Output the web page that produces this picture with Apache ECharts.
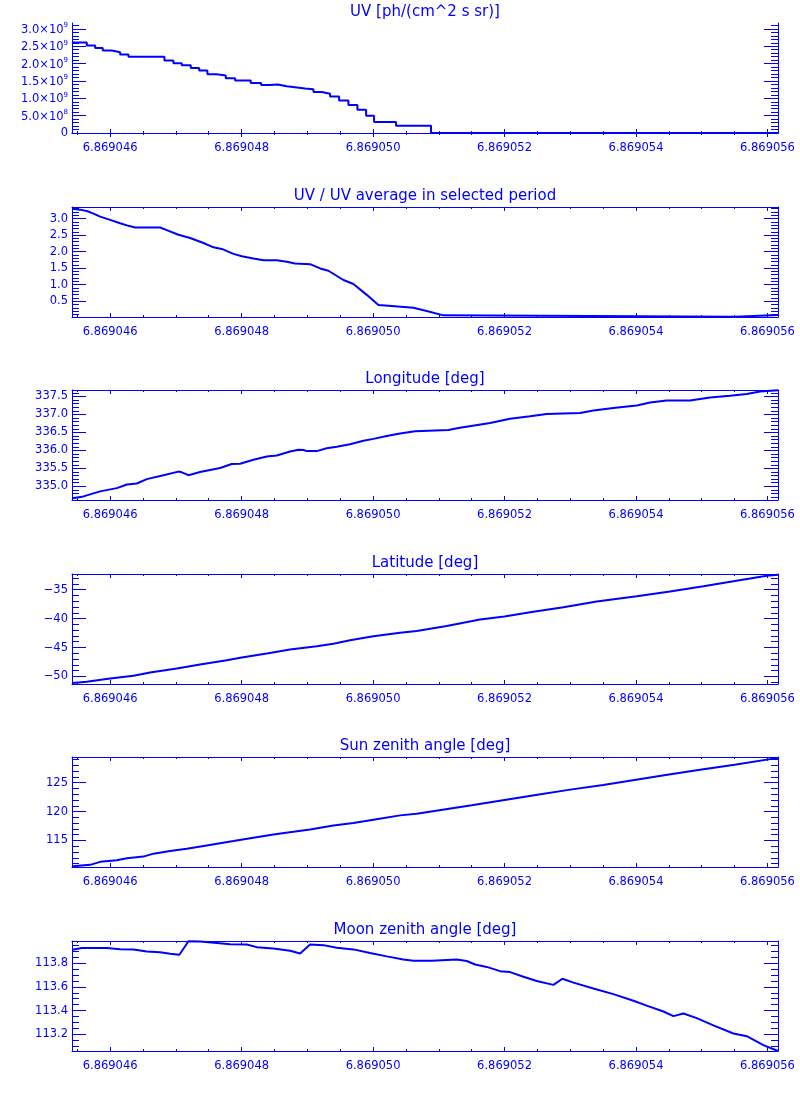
<!DOCTYPE html>
<html>
<head>
<meta charset="utf-8">
<script src="https://cdn.jsdelivr.net/npm/echarts@6/dist/echarts.min.js"></script>
<style>
  html, body { margin: 0; padding: 0; background: #fff; }
  #chart { width: 800px; height: 1100px; }
</style>
</head>
<body>
<div id="chart"></div>
<script>
// x values are offsets from 6.869040, in units of 1e-6
const X_BASE = 6.869040;
const xTicks = [6, 8, 10, 12, 14, 16];

// UV [ph/(cm^2 s sr)], step curve, values in 1e9
const uvX = [5.427, 5.645, 5.772, 5.888, 6.025, 6.152, 6.279, 6.826, 6.963, 7.090, 7.227, 7.354, 7.480, 7.622, 7.759, 7.901,
  8.139, 8.297, 8.423, 8.550, 8.687, 8.814, 8.966, 9.093, 9.220, 9.346, 9.483, 9.625, 9.762, 9.894, 10.015, 10.350, 10.882, 16.160];
const uvVal = [2.61, 2.52, 2.45, 2.38, 2.33, 2.26, 2.20, 2.09, 2.01, 1.95, 1.87, 1.80, 1.69, 1.66, 1.58, 1.51,
  1.44, 1.38, 1.40, 1.35, 1.32, 1.28, 1.26, 1.18, 1.13, 1.05, 0.94, 0.81, 0.67, 0.50, 0.32, 0.21, 0, 0];
const uvTicks = [0, 0.5e9, 1.0e9, 1.5e9, 2.0e9, 2.5e9, 3.0e9];

// UV / UV average
const ratioX = [5.427, 5.544, 5.655, 5.747, 5.848, 6.0, 6.152, 6.279, 6.380, 6.760, 6.862, 7.039, 7.217, 7.420, 7.572, 7.698,
  7.876, 8.003, 8.180, 8.332, 8.535, 8.687, 8.814, 9.042, 9.194, 9.321, 9.549, 9.701, 9.904, 10.081, 10.284, 10.613,
  10.816, 11.070, 11.095, 15.506, 16.160];
const ratioVal = [3.30, 3.27, 3.22, 3.15, 3.06, 2.96, 2.86, 2.78, 2.73, 2.73, 2.65, 2.51, 2.41, 2.26, 2.13, 2.08,
  1.93, 1.86, 1.79, 1.74, 1.74, 1.69, 1.64, 1.62, 1.49, 1.42, 1.14, 1.02, 0.69, 0.38, 0.35, 0.30,
  0.20, 0.07, 0.03, 0.03, 0.08];
const ratioTicks = [0.5, 1.0, 1.5, 2.0, 2.5, 3.0];

// Longitude
const lonX = [5.427, 5.594, 5.848, 6.101, 6.254, 6.406, 6.558, 6.811, 7.039, 7.090, 7.191, 7.369, 7.673, 7.850, 7.977, 8.180,
  8.383, 8.535, 8.738, 8.864, 8.940, 8.991, 9.143, 9.295, 9.447, 9.650, 9.853, 10.005, 10.208, 10.411, 10.639, 11.146,
  11.298, 11.780, 12.084, 12.389, 12.642, 13.149, 13.352, 13.656, 14.011, 14.214, 14.468, 14.823, 15.127, 15.431, 15.685,
  15.888, 16.160];
const lonVal = [334.67, 334.72, 334.86, 334.95, 335.05, 335.08, 335.20, 335.31, 335.41, 335.39, 335.31, 335.40, 335.51, 335.62, 335.63, 335.74,
  335.83, 335.86, 335.97, 336.02, 336.01, 335.98, 335.98, 336.06, 336.10, 336.17, 336.27, 336.32, 336.40, 336.47, 336.53, 336.57,
  336.62, 336.76, 336.88, 336.95, 337.01, 337.04, 337.11, 337.18, 337.25, 337.33, 337.39, 337.39, 337.47, 337.52, 337.57,
  337.64, 337.67];
const lonTicks = [335.0, 335.5, 336.0, 336.5, 337.0, 337.5];

// Latitude
const latX = [5.427, 5.645, 6.0, 6.355, 6.608, 7.014, 7.369, 7.774, 8.003, 8.383, 8.738, 9.143, 9.397, 9.650, 10.005, 10.411,
  10.664, 11.120, 11.627, 11.998, 12.389, 12.896, 13.403, 14.011, 14.518, 15.025, 15.482, 15.989, 16.160];
const latVal = [-51.14, -50.91, -50.34, -49.88, -49.31, -48.62, -47.94, -47.19, -46.73, -46.05, -45.36, -44.79, -44.33, -43.76, -43.07, -42.44,
  -42.16, -41.30, -40.15, -39.64, -38.89, -38.03, -37.06, -36.14, -35.34, -34.43, -33.57, -32.60, -32.42];
const latTicks = [-50, -45, -40, -35];

// Sun zenith angle
const sunX = [5.427, 5.696, 5.848, 6.101, 6.254, 6.507, 6.659, 6.913, 7.166, 7.470, 7.876, 8.180, 8.484, 8.788, 9.042, 9.397,
  9.701, 10.005, 10.411, 10.664, 11.5, 12.0, 12.5, 13.0, 13.5, 14.0, 14.5, 15.0, 15.5, 16.160];
const sunVal = [110.54, 110.77, 111.29, 111.57, 111.91, 112.20, 112.71, 113.17, 113.57, 114.14, 114.89, 115.46, 116.03, 116.49, 116.89, 117.57,
  118.03, 118.60, 119.34, 119.63, 121.1, 122.0, 122.9, 123.8, 124.6, 125.5, 126.4, 127.3, 128.1, 129.3];
const sunTicks = [115, 120, 125];

// Moon zenith angle
const moonX = [5.427, 5.440, 5.569, 5.949, 6.152, 6.355, 6.558, 6.760, 6.913, 7.054, 7.191, 7.369, 7.622, 7.825, 8.079, 8.231,
  8.484, 8.738, 8.890, 9.042, 9.245, 9.447, 9.701, 9.955, 10.208, 10.461, 10.613, 10.893, 11.273, 11.425, 11.552, 11.729,
  11.932, 12.084, 12.287, 12.490, 12.744, 12.880, 13.048, 13.352, 13.656, 13.961, 14.163, 14.417, 14.569, 14.721, 14.924,
  15.177, 15.482, 15.685, 15.938, 16.160];
const moonVal = [113.914, 113.922, 113.928, 113.928, 113.919, 113.917, 113.900, 113.892, 113.881, 113.872, 113.986, 113.983, 113.972, 113.961, 113.958, 113.936,
  113.925, 113.906, 113.883, 113.958, 113.953, 113.931, 113.917, 113.886, 113.858, 113.831, 113.822, 113.822, 113.831, 113.819, 113.789, 113.769,
  113.733, 113.725, 113.686, 113.650, 113.617, 113.669, 113.636, 113.586, 113.539, 113.483, 113.442, 113.392, 113.353, 113.375, 113.336,
  113.275, 113.206, 113.183, 113.108, 113.058];
const moonTicks = [113.2, 113.4, 113.6, 113.8];

const BLUE = '#0000ff';
const FONT = 'DejaVu Sans';

function uvLabel(v) {
  if (v === 0) return '0';
  let e = Math.floor(Math.log10(v) + 1e-9);
  let m = (v / Math.pow(10, e)).toFixed(1);
  return '{b|' + m + '×10}{s|' + e + '}';
}

let panels = [
  { title: 'UV [ph/(cm^2 s sr)]', x: uvX, y: uvVal.map(v => v * 1e9), step: true,
    min: 0, max: 3.17e9, ticks: uvTicks, minor: 0.1e9, fmt: uvLabel },
  { title: 'UV / UV average in selected period', x: ratioX, y: ratioVal,
    min: 0.02, max: 3.35, ticks: ratioTicks, minor: 0.1, fmt: v => v.toFixed(1) },
  { title: 'Longitude [deg]', x: lonX, y: lonVal,
    min: 334.62, max: 337.68, ticks: lonTicks, minor: 0.1, fmt: v => v.toFixed(1) },
  { title: 'Latitude [deg]', x: latX, y: latVal,
    min: -51.3, max: -32.3, ticks: latTicks, minor: 1, fmt: v => String(Math.round(v)).replace('-', '\u2212') },
  { title: 'Sun zenith angle [deg]', x: sunX, y: sunVal,
    min: 110.4, max: 129.45, ticks: sunTicks, minor: 1, fmt: v => String(Math.round(v)) },
  { title: 'Moon zenith angle [deg]', x: moonX, y: moonVal,
    min: 113.058, max: 113.988, ticks: moonTicks, minor: 0.05, fmt: v => v.toFixed(1) }
];

const X_MIN = 5.42, X_MAX = 16.16;
const GRID_LEFT = 72, GRID_W = 706, GRID_H = 110;
const gridTops = [23, 207, 390, 574, 757, 941];

function minors(min, max, step) {
  let out = [];
  let k = Math.ceil(min / step - 1e-6);
  for (; k * step <= max + 1e-9; k++) out.push(+(k * step).toFixed(6));
  return out;
}
const xMinor = minors(X_MIN, X_MAX, 0.5);

let option = {
  animation: false,
  backgroundColor: '#fff',
  textStyle: { fontFamily: FONT, color: BLUE },
  title: [], grid: [], xAxis: [], yAxis: [], series: []
};

panels.forEach((p, i) => {
  option.title.push({
    text: p.title, left: GRID_LEFT + GRID_W / 2, textAlign: 'center', top: gridTops[i] - 18, padding: 0,
    textStyle: { fontFamily: FONT, fontSize: 15, fontWeight: 'normal', color: BLUE }
  });
  option.grid.push({ left: GRID_LEFT, top: gridTops[i], width: GRID_W, height: GRID_H, containLabel: false, outerBoundsMode: 'none' });

  let xBase = { type: 'value', gridIndex: i, min: X_MIN, max: X_MAX, splitLine: { show: false } };
  let xi = option.xAxis.length;
  // bottom, labelled, major ticks
  option.xAxis.push(Object.assign({}, xBase, {
    position: 'bottom',
    axisLine: { show: true, lineStyle: { color: BLUE, width: 1 } },
    axisTick: { show: true, inside: true, length: 4, customValues: xTicks, lineStyle: { color: BLUE } },
    axisLabel: { show: true, customValues: xTicks, margin: 9, color: BLUE, fontFamily: FONT, fontSize: 11.5,
      formatter: v => (X_BASE + v * 1e-6).toFixed(6) }
  }));
  // bottom minor
  option.xAxis.push(Object.assign({}, xBase, {
    position: 'bottom', axisLine: { show: false },
    axisTick: { show: true, inside: true, length: 2, customValues: xMinor, lineStyle: { color: BLUE } },
    axisLabel: { show: false }
  }));
  // top major / minor
  option.xAxis.push(Object.assign({}, xBase, {
    position: 'top',
    axisLine: { show: true, lineStyle: { color: BLUE, width: 1 } },
    axisTick: { show: true, inside: true, length: 4, customValues: xTicks, lineStyle: { color: BLUE } },
    axisLabel: { show: false }
  }));
  option.xAxis.push(Object.assign({}, xBase, {
    position: 'top', axisLine: { show: false },
    axisTick: { show: true, inside: true, length: 2, customValues: xMinor, lineStyle: { color: BLUE } },
    axisLabel: { show: false }
  }));

  let yMinor = minors(p.min, p.max, p.minor);
  let yBase = { type: 'value', gridIndex: i, min: p.min, max: p.max, splitLine: { show: false }, scale: true };
  let yi = option.yAxis.length;
  option.yAxis.push(Object.assign({}, yBase, {
    position: 'left',
    axisLine: { show: true, lineStyle: { color: BLUE, width: 1 } },
    axisTick: { show: true, inside: true, length: 14, customValues: p.ticks, lineStyle: { color: BLUE } },
    axisLabel: { show: true, customValues: p.ticks, margin: 4, color: BLUE, fontFamily: FONT, fontSize: 11.5,
      formatter: p.fmt,
      rich: {
        b: { color: BLUE, fontFamily: FONT, fontSize: 11.5, lineHeight: 14, verticalAlign: 'bottom' },
        s: { color: BLUE, fontFamily: FONT, fontSize: 7, lineHeight: 14, verticalAlign: 'top' }
      } }
  }));
  option.yAxis.push(Object.assign({}, yBase, {
    position: 'left', axisLine: { show: false },
    axisTick: { show: true, inside: true, length: 7, customValues: yMinor, lineStyle: { color: BLUE } },
    axisLabel: { show: false }
  }));
  option.yAxis.push(Object.assign({}, yBase, {
    position: 'right',
    axisLine: { show: true, lineStyle: { color: BLUE, width: 1 } },
    axisTick: { show: true, inside: true, length: 14, customValues: p.ticks, lineStyle: { color: BLUE } },
    axisLabel: { show: false }
  }));
  option.yAxis.push(Object.assign({}, yBase, {
    position: 'right', axisLine: { show: false },
    axisTick: { show: true, inside: true, length: 7, customValues: yMinor, lineStyle: { color: BLUE } },
    axisLabel: { show: false }
  }));

  option.series.push({
    type: 'line',
    xAxisIndex: xi, yAxisIndex: yi,
    data: p.x.map((x, k) => [x, p.y[k]]),
    step: p.step ? 'end' : false,
    showSymbol: false,
    clip: true,
    lineStyle: { color: BLUE, width: 2 },
    itemStyle: { color: BLUE }
  });
});

let mychart = echarts.init(document.getElementById('chart'), null, { renderer: 'canvas' });
mychart.setOption(option);
</script>
</body>
</html>
